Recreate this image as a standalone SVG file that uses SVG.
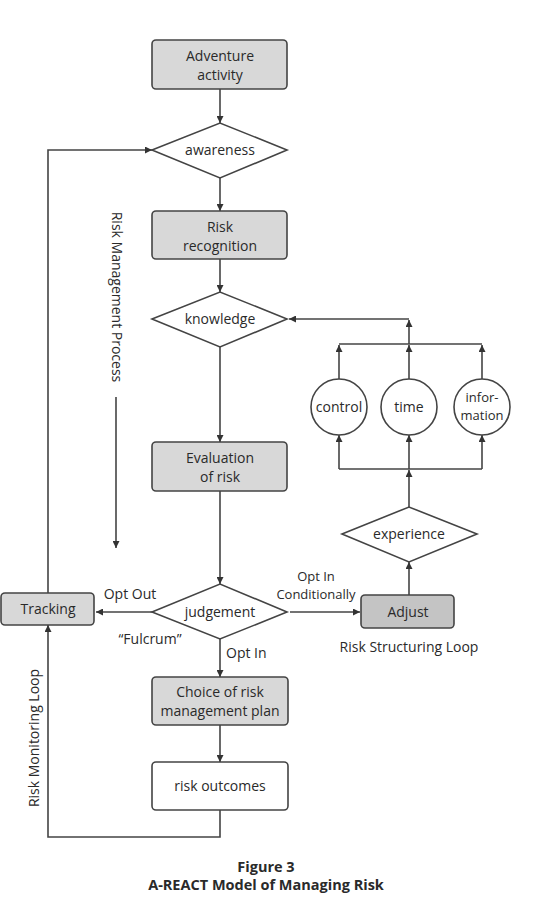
<svg xmlns="http://www.w3.org/2000/svg" width="554" height="905" viewBox="0 0 554 905">
<style>
text{font-family:"Open Sans","Liberation Sans",Arial,sans-serif;font-size:14px;fill:#2a2a2a;text-anchor:middle}
.box{fill:#d8d8d8;stroke:#444;stroke-width:1.6}
.dark{fill:#c4c4c4;stroke:#444;stroke-width:1.6}
.white{fill:#fff;stroke:#444;stroke-width:1.6}
.ln{fill:none;stroke:#444;stroke-width:1.6}
.ar{fill:none;stroke:#444;stroke-width:1.6;marker-end:url(#ah)}
.title{font-weight:bold;font-size:14.5px}
.sm{font-size:13px}
</style>
<defs>
<marker id="ah" viewBox="0 0 10 10" refX="10" refY="5" markerWidth="7" markerHeight="7" markerUnits="userSpaceOnUse" orient="auto">
<path d="M0,0 L10,5 L0,10 z" fill="#333"/>
</marker>
</defs>
<rect width="554" height="905" fill="#fff"/>
<g id="connectors">
<line class="ar" x1="220" y1="89" x2="220" y2="123"/>
<line class="ar" x1="220" y1="178" x2="220" y2="211"/>
<line class="ar" x1="220" y1="259" x2="220" y2="292"/>
<line class="ar" x1="220" y1="347" x2="220" y2="442"/>
<line class="ar" x1="220" y1="491" x2="220" y2="584"/>
<line class="ar" x1="220" y1="639" x2="220" y2="677"/>
<line class="ar" x1="220" y1="725" x2="220" y2="762"/>
<polyline class="ar" points="220,810 220,837 48,837 48,625"/>
<polyline class="ar" points="48,593 48,150 152,150"/>
<line class="ar" x1="152" y1="612" x2="96" y2="612"/>
<line class="ar" x1="290" y1="612" x2="360" y2="612"/>
<line class="ar" x1="409" y1="595" x2="409" y2="562"/>
<line class="ar" x1="409" y1="507" x2="409" y2="470"/>
<line class="ln" x1="339" y1="469" x2="482" y2="469"/>
<line class="ar" x1="339" y1="469" x2="339" y2="435"/>
<line class="ar" x1="409" y1="469" x2="409" y2="435"/>
<line class="ar" x1="482" y1="469" x2="482" y2="435"/>
<line class="ar" x1="339" y1="379" x2="339" y2="345"/>
<line class="ar" x1="409" y1="379" x2="409" y2="345"/>
<line class="ar" x1="482" y1="379" x2="482" y2="345"/>
<line class="ln" x1="339" y1="344" x2="482" y2="344"/>
<line class="ar" x1="409" y1="344" x2="409" y2="320"/>
<line class="ar" x1="409" y1="319" x2="289" y2="319"/>
<line class="ar" x1="116" y1="397" x2="116" y2="548"/>
</g>
<g id="adventure"><rect class="box" x="152" y="40" width="135" height="49" rx="4"/><text x="220" y="61">Adventure</text><text x="220" y="80">activity</text></g>
<g id="awareness"><polygon class="white" points="152,150 220,123 287,150 220,178"/><text x="220" y="155">awareness</text></g>
<g id="risk-recognition"><rect class="box" x="152" y="211" width="135" height="48" rx="4"/><text x="220" y="232">Risk</text><text x="220" y="251">recognition</text></g>
<g id="knowledge"><polygon class="white" points="152,319 220,292 287,319 220,347"/><text x="220" y="324">knowledge</text></g>
<g id="evaluation"><rect class="box" x="152" y="442" width="135" height="49" rx="4"/><text x="220" y="463">Evaluation</text><text x="220" y="482">of risk</text></g>
<g id="judgement"><polygon class="white" points="152,612 220,584 287,612 220,639"/><text x="220" y="617">judgement</text></g>
<g id="tracking"><rect class="box" x="1" y="593" width="93" height="32" rx="4"/><text x="48" y="614">Tracking</text></g>
<g id="adjust"><rect class="dark" x="361" y="595" width="93" height="33" rx="4"/><text x="408" y="617">Adjust</text></g>
<g id="choice"><rect class="box" x="152" y="677" width="136" height="48" rx="4"/><text x="220" y="697">Choice of risk</text><text x="220" y="716">management plan</text></g>
<g id="outcomes"><rect class="white" x="152" y="762" width="136" height="48" rx="4"/><text x="220" y="791">risk outcomes</text></g>
<g id="experience"><polygon class="white" points="342,534 409,507 477,534 409,562"/><text x="409" y="539">experience</text></g>
<g id="control"><circle class="white" cx="339" cy="407" r="28"/><text x="339" y="412">control</text></g>
<g id="time"><circle class="white" cx="409" cy="407" r="28"/><text x="409" y="412">time</text></g>
<g id="information"><circle class="white" cx="482" cy="407" r="28"/><text class="sm" x="482" y="402">infor-</text><text class="sm" x="482" y="420">mation</text></g>
<g id="labels">
<text x="130" y="599">Opt Out</text>
<text class="sm" x="316" y="581">Opt In</text>
<text class="sm" x="316" y="599">Conditionally</text>
<text x="150" y="644">“Fulcrum”</text>
<text x="226" y="658" style="text-anchor:start">Opt In</text>
<text x="409" y="652">Risk Structuring Loop</text>
<text transform="translate(112,297) rotate(90)">Risk Management Process</text>
<text transform="translate(39,738) rotate(-90)">Risk Monitoring Loop</text>
<text class="title" x="266" y="872">Figure 3</text>
<text class="title" x="266" y="890">A-REACT Model of Managing Risk</text>
</g>
</svg>
